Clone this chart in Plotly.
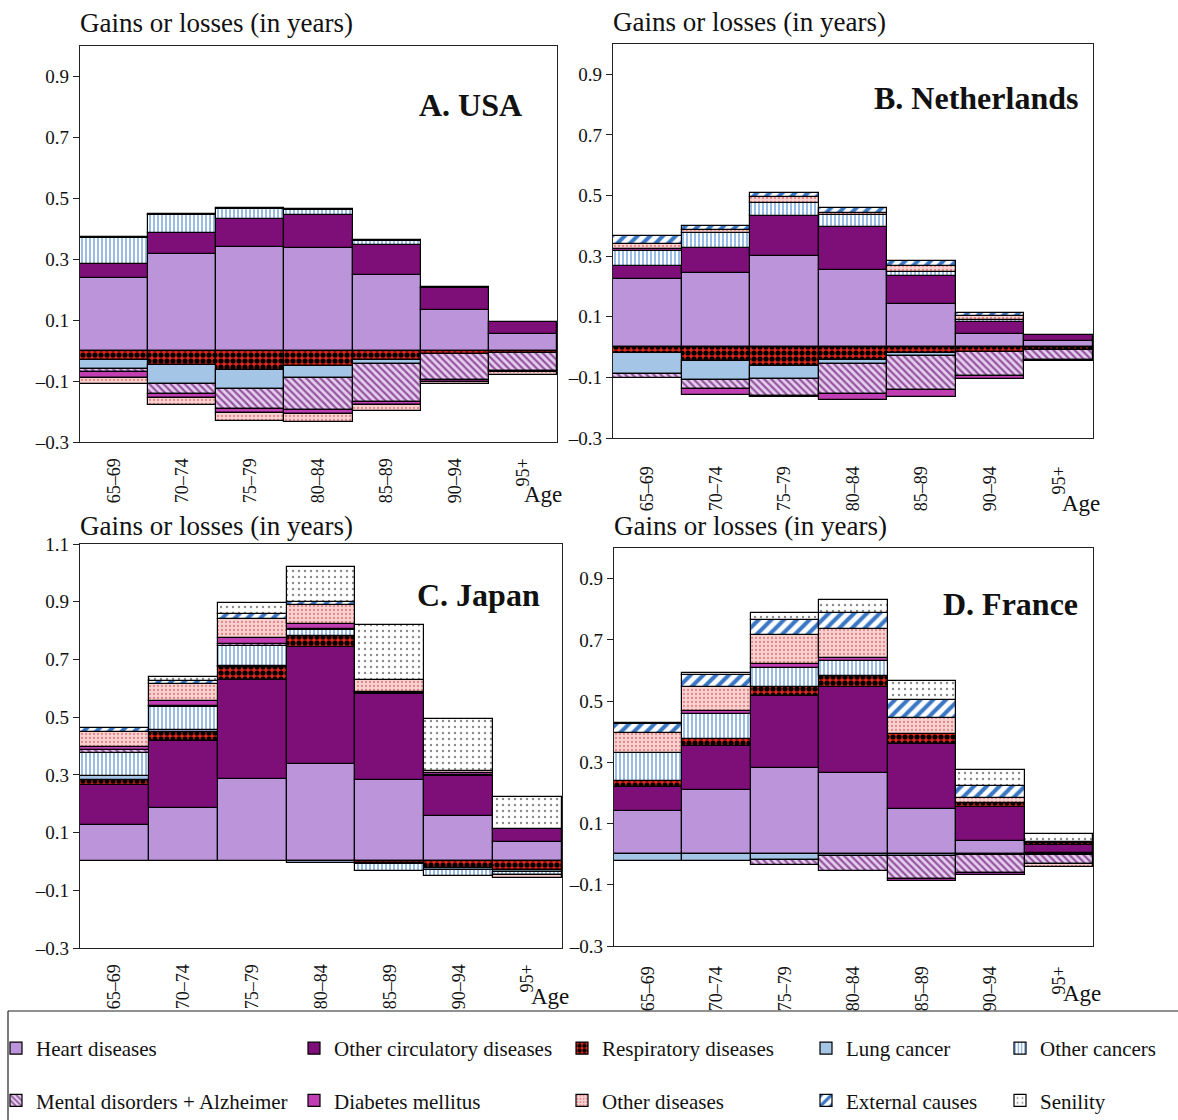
import plotly.graph_objects as go

W, H = 1178, 1120

ages = ["65–69", "70–74", "75–79", "80–84", "85–89", "90–94", "95+"]
causes = ["Heart diseases", "Other circulatory diseases", "Respiratory diseases", "Lung cancer",
          "Other cancers", "Mental disorders + Alzheimer", "Diabetes mellitus", "Other diseases",
          "External causes", "Senility"]

# ---- data (gains/losses in years), per country, per cause, per age group ----
usa_heart = [0.238, 0.317, 0.340, 0.337, 0.247, 0.134, 0.055]
usa_circ = [0.046, 0.069, 0.093, 0.109, 0.101, 0.072, 0.039]
usa_resp = [-0.030, -0.048, -0.062, -0.049, -0.030, -0.010, -0.008]
usa_lung = [-0.030, -0.061, -0.064, -0.041, -0.014, 0, 0]
usa_ocanc = [0.087, 0.060, 0.033, 0.016, 0.013, 0.003, 0]
usa_mental = [-0.011, -0.035, -0.066, -0.106, -0.126, -0.088, -0.060]
usa_diab = [-0.018, -0.011, -0.013, -0.011, -0.009, -0.005, -0.003]
usa_odis = [-0.019, -0.022, -0.027, -0.027, -0.018, -0.007, -0.008]
usa_ext = [0.003, 0.004, 0.003, 0.003, 0.002, 0, 0]
usa_sen = [0, 0, 0, 0, 0, 0, 0]

nl_heart = [0.226, 0.246, 0.302, 0.253, 0.143, 0.043, 0.021]
nl_circ = [0.043, 0.081, 0.129, 0.143, 0.090, 0.039, 0.019]
nl_resp = [-0.019, -0.045, -0.063, -0.041, -0.021, -0.017, -0.008]
nl_lung = [-0.069, -0.065, -0.041, -0.014, -0.009, 0, 0]
nl_ocanc = [0.049, 0.049, 0.044, 0.040, 0.016, 0.008, 0]
nl_mental = [-0.013, -0.029, -0.056, -0.099, -0.112, -0.079, -0.033]
nl_diab = [0.006, -0.019, -0.004, -0.019, -0.022, -0.008, -0.005]
nl_odis = [0.016, 0.011, 0.020, 0.008, 0.020, 0.011, 0]
nl_ext = [0.025, 0.013, 0.015, 0.015, 0.016, 0.011, 0]
nl_sen = [0, 0, 0, 0, 0, 0, 0]

jp_heart = [0.127, 0.186, 0.284, 0.339, 0.283, 0.159, 0.069]
jp_circ = [0.139, 0.231, 0.343, 0.404, 0.296, 0.136, 0.044]
jp_resp = [0.017, 0.033, 0.046, 0.038, -0.004, -0.022, -0.029]
jp_lung = [0.012, 0.005, 0.004, -0.006, -0.004, -0.006, -0.008]
jp_ocanc = [0.082, 0.080, 0.071, 0.021, -0.024, -0.024, -0.011]
jp_mental = [0.008, 0.003, 0.006, 0.003, 0.004, 0.006, 0]
jp_diab = [0.011, 0.017, 0.020, 0.018, 0.004, 0.006, 0]
jp_odis = [0.052, 0.061, 0.067, 0.066, 0.040, 0.006, -0.009]
jp_ext = [0.014, 0.009, 0.015, 0.011, 0.003, 0, 0]
jp_sen = [0, 0.013, 0.040, 0.122, 0.188, 0.179, 0.112]

fr_heart = [0.140, 0.209, 0.283, 0.266, 0.146, 0.042, 0.004]
fr_circ = [0.078, 0.144, 0.233, 0.281, 0.213, 0.111, 0.027]
fr_resp = [0.020, 0.024, 0.029, 0.036, 0.033, 0.014, 0.005]
fr_lung = [-0.022, -0.022, -0.018, -0.005, -0.005, -0.004, -0.004]
fr_ocanc = [0.092, 0.082, 0.063, 0.047, 0, 0, 0.003]
fr_mental = [0, 0, -0.016, -0.051, -0.075, -0.056, -0.028]
fr_diab = [0, 0.007, 0.013, 0.010, -0.009, -0.008, 0]
fr_odis = [0.066, 0.080, 0.096, 0.094, 0.052, 0.017, -0.010]
fr_ext = [0.030, 0.038, 0.049, 0.054, 0.061, 0.038, 0]
fr_sen = [0.004, 0.009, 0.022, 0.043, 0.062, 0.052, 0.027]

panel_titles = ["A. USA", "B. Netherlands", "C. Japan", "D. France"]
ytick_A = [-0.3, -0.1, 0.1, 0.3, 0.5, 0.7, 0.9]
ytick_C = [-0.3, -0.1, 0.1, 0.3, 0.5, 0.7, 0.9, 1.1]

countries = [
    [usa_heart, usa_circ, usa_resp, usa_lung, usa_ocanc, usa_mental, usa_diab, usa_odis, usa_ext, usa_sen],
    [nl_heart, nl_circ, nl_resp, nl_lung, nl_ocanc, nl_mental, nl_diab, nl_odis, nl_ext, nl_sen],
    [jp_heart, jp_circ, jp_resp, jp_lung, jp_ocanc, jp_mental, jp_diab, jp_odis, jp_ext, jp_sen],
    [fr_heart, fr_circ, fr_resp, fr_lung, fr_ocanc, fr_mental, fr_diab, fr_odis, fr_ext, fr_sen],
]

# ---- styles ----
styles = [
    dict(color="#BC94DA", pattern=None),
    dict(color="#7E0F79", pattern=None),
    dict(color="#E3261B", pattern=dict(shape=".", fgcolor="#000000", bgcolor="#E3261B", size=6, solidity=0.6)),
    dict(color="#A5C5E7", pattern=None),
    dict(color="#FFFFFF", pattern=dict(shape="|", fgcolor="#8DB5E3", bgcolor="#FFFFFF", size=4, solidity=0.45)),
    dict(color="#E6CFEE", pattern=dict(shape="\\", fgcolor="#94559F", bgcolor="#E6CFEE", size=5, solidity=0.45)),
    dict(color="#C13DB2", pattern=None),
    dict(color="#F8CDCD", pattern=dict(shape=".", fgcolor="#E68686", bgcolor="#F8D2D2", size=4, solidity=0.25)),
    dict(color="#FFFFFF", pattern=dict(shape="/", fgcolor="#3A77C4", bgcolor="#FFFFFF", size=9, solidity=0.45)),
    dict(color="#FFFFFF", pattern=dict(shape=".", fgcolor="#8A8A8A", bgcolor="#FFFFFF", size=6, solidity=0.12)),
]
legend_of = ["legend", "legend2", "legend3", "legend4", "legend5",
             "legend", "legend2", "legend3", "legend4", "legend5"]

FONT = "Liberation Serif"

def px_x(v):
    return v / W

def px_y(v):
    return 1 - v / H

# plot areas in page pixels: (left, right, top, bottom)
areas = [(80, 557, 46, 442), (613, 1093, 44, 438), (80, 562, 544, 948), (614, 1093, 548, 946)]
yranges = [[-0.3, 1.0], [-0.3, 1.0], [-0.3, 1.1], [-0.3, 1.0]]
yticks = [ytick_A, ytick_A, ytick_C, ytick_A]
standoffs = [8, 20, 8, 12]

fig = go.Figure()
for p, data in enumerate(countries):
    xa = "x" if p == 0 else f"x{p+1}"
    ya = "y" if p == 0 else f"y{p+1}"
    for c, name in enumerate(causes):
        vals = [None if v == 0 else v for v in data[c]]
        st = styles[c]
        marker = dict(color=st["color"], line=dict(color="#000000", width=1.2))
        if st["pattern"] is not None:
            marker["pattern"] = dict(fillmode="replace", **st["pattern"])
        fig.add_trace(go.Bar(
            x=ages, y=vals, name=name, marker=marker, xaxis=xa, yaxis=ya,
            legendgroup=name, showlegend=(p == 0), legend=legend_of[c],
        ))

layout = dict(
    width=W, height=H, margin=dict(l=0, r=0, t=0, b=0, autoexpand=False),
    paper_bgcolor="white", plot_bgcolor="white",
    barmode="relative", bargap=0,
    font=dict(family=FONT, size=19, color="#111111"),
)
for p in range(4):
    l, r, t, b = areas[p]
    sfx = "" if p == 0 else str(p + 1)
    layout["xaxis" + sfx] = dict(
        domain=[px_x(l), px_x(r)], anchor="y" + sfx, type="category", automargin=False,
        range=[-0.5, 6.5], showline=True, mirror=True, linecolor="#222222", linewidth=1.2,
        ticks="", tickangle=-90, showgrid=False, zeroline=False,
        tickfont=dict(family=FONT, size=18), ticklabelstandoff=standoffs[p],
    )
    layout["yaxis" + sfx] = dict(
        domain=[px_y(b), px_y(t)], anchor="x" + sfx, range=yranges[p], automargin=False,
        tickvals=yticks[p],
        ticktext=[("–" + f"{abs(v):.1f}") if v < 0 else f"{v:.1f}" for v in yticks[p]],
        showline=True, mirror=True, linecolor="#222222", linewidth=1.2,
        ticks="outside", ticklen=6, tickcolor="#222222", showgrid=False, zeroline=False,
        tickfont=dict(family=FONT, size=19),
    )

# legends: five columns, two rows
leg_text_x = [36, 334, 602, 846, 1040]
for i, key in enumerate(["legend", "legend2", "legend3", "legend4", "legend5"]):
    layout[key] = dict(
        x=px_x(leg_text_x[i] - 40), y=px_y(1028), xanchor="left", yanchor="top",
        orientation="v", bgcolor="rgba(0,0,0,0)", font=dict(family=FONT, size=21, color="#111111"),
        tracegroupgap=22, traceorder="grouped", itemwidth=30,
    )

annotations = []
title_pos = [(80, 23), (613, 22), (80, 526), (614, 526)]
for (x, y) in title_pos:
    annotations.append(dict(text="Gains or losses (in years)", x=px_x(x - 2), y=px_y(y), xref="paper", yref="paper",
                            xanchor="left", yanchor="middle", showarrow=False,
                            font=dict(family=FONT, size=27, color="#111111")))
label_pos = [(524, 105), (1080, 98), (542, 595), (1080, 604)]
for (x, y), txt in zip(label_pos, panel_titles):
    annotations.append(dict(text="<b>" + txt + "</b>", x=px_x(x), y=px_y(y), xref="paper", yref="paper",
                            xanchor="right", yanchor="middle", showarrow=False,
                            font=dict(family=FONT, size=32, color="#111111")))
age_pos = [(543, 494), (1081, 504), (550, 996), (1082, 993)]
for (x, y) in age_pos:
    annotations.append(dict(text="Age", x=px_x(x), y=px_y(y), xref="paper", yref="paper",
                            xanchor="center", yanchor="middle", showarrow=False,
                            font=dict(family=FONT, size=23, color="#111111")))
layout["annotations"] = annotations
layout["shapes"] = [
    dict(type="line", xref="paper", yref="paper", x0=px_x(8), x1=1.0, y0=px_y(1011), y1=px_y(1011),
         line=dict(color="#222222", width=1.2)),
    dict(type="line", xref="paper", yref="paper", x0=px_x(8), x1=px_x(8), y0=px_y(1011), y1=0,
         line=dict(color="#222222", width=1.2)),
]
fig.update_layout(**layout)

# make the page margin-free so the figure fills the 1178x1120 window exactly
page_css = ("document.documentElement.style.margin='0';document.documentElement.style.padding='0';"
            "document.documentElement.style.overflow='hidden';"
            "document.body.style.margin='0';document.body.style.padding='0';"
            "document.body.style.overflow='hidden';")
fig.write_html("out.html", post_script=page_css, config={"displayModeBar": False})
